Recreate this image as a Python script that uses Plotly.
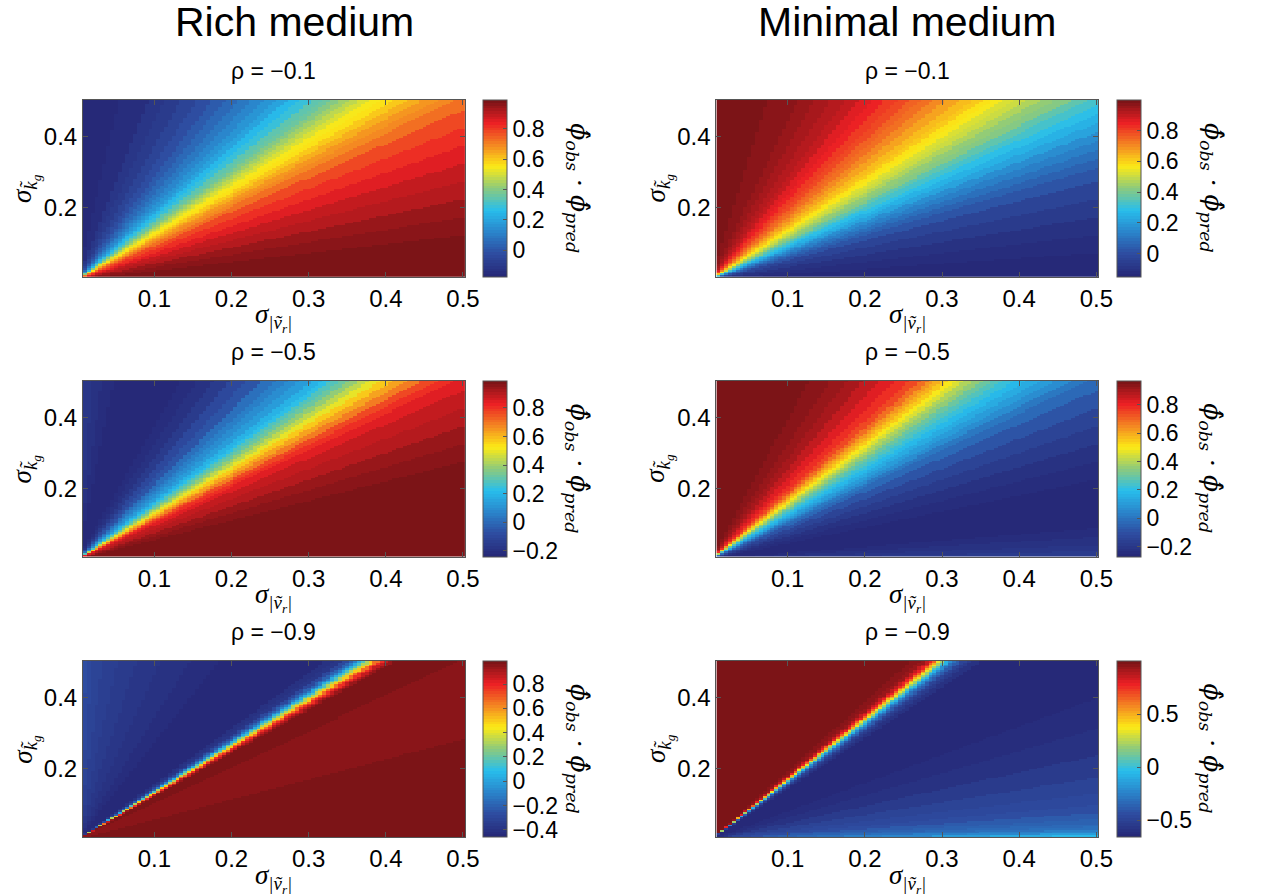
import numpy as np
import plotly.graph_objects as go

# grid of the two noise amplitudes (cell centres)
sigma_v = np.round(np.arange(0.01, 0.50001, 0.005), 4)
sigma_k = np.round(np.arange(0.01, 0.50001, 0.005), 4)

# value of phi_obs . phi_pred along rays of constant slope sigma_k / sigma_v
rich_01_slope = [0.0, 0.1, 0.2, 0.3, 0.4, 0.5, 0.6, 0.7, 0.8, 0.9, 1.0, 1.05, 1.1, 1.15, 1.2, 1.25,
                 1.3, 1.35, 1.4, 1.45, 1.5, 1.55, 1.6, 1.7, 1.8, 1.9, 2.0, 2.15, 2.3, 2.5, 2.75, 3.0,
                 3.5, 4, 5, 6, 8, 11, 16, 25, 50]
rich_01_val = [0.99, 0.985, 0.975, 0.96, 0.94, 0.915, 0.89, 0.86, 0.82, 0.775, 0.725, 0.695, 0.665,
               0.635, 0.6, 0.57, 0.535, 0.5, 0.465, 0.43, 0.4, 0.37, 0.34, 0.29, 0.245, 0.205, 0.17,
               0.125, 0.09, 0.05, 0.01, -0.02, -0.06, -0.09, -0.12, -0.14, -0.155, -0.165, -0.17,
               -0.175, -0.175]

rich_05_slope = [0.0, 0.2, 0.4, 0.5, 0.6, 0.7, 0.8, 0.9, 1.0, 1.05, 1.1, 1.15, 1.2, 1.25, 1.3, 1.35,
                 1.4, 1.45, 1.5, 1.55, 1.6, 1.7, 1.8, 1.9, 2.0, 2.2, 2.4, 2.7, 3.0, 3.5, 4.0, 5.0,
                 6.5, 9, 13, 20, 35, 50]
rich_05_val = [0.99, 0.99, 0.985, 0.975, 0.96, 0.94, 0.91, 0.88, 0.84, 0.81, 0.76, 0.7, 0.64, 0.57,
               0.5, 0.44, 0.38, 0.33, 0.28, 0.24, 0.2, 0.14, 0.09, 0.05, 0.01, -0.05, -0.1, -0.15,
               -0.19, -0.22, -0.235, -0.24, -0.235, -0.225, -0.21, -0.195, -0.175, -0.165]

rich_09_slope = [0.0, 0.3, 0.55, 0.58, 0.8, 1.0, 1.03, 1.1, 1.18, 1.21, 1.23, 1.25, 1.27, 1.29, 1.31,
                 1.33, 1.35, 1.37, 1.39, 1.41, 1.44, 1.48, 1.53, 1.6, 1.7, 1.85, 2.1, 2.5, 3.0, 4,
                 5.5, 8, 12, 20, 35, 50]
rich_09_val = [0.985, 0.985, 0.98, 0.96, 0.955, 0.96, 0.975, 0.985, 0.99, 0.97, 0.93, 0.87, 0.78,
               0.66, 0.5, 0.33, 0.16, 0.02, -0.1, -0.2, -0.3, -0.37, -0.41, -0.44, -0.455, -0.46,
               -0.455, -0.445, -0.43, -0.41, -0.385, -0.36, -0.34, -0.32, -0.29, -0.27]

min_01_slope = [0.0, 0.1, 0.2, 0.3, 0.4, 0.5, 0.6, 0.65, 0.7, 0.75, 0.8, 0.85, 0.9, 0.95, 1.0, 1.05,
                1.1, 1.15, 1.2, 1.25, 1.3, 1.35, 1.4, 1.45, 1.5, 1.6, 1.7, 1.8, 1.9, 2.0, 2.15, 2.3,
                2.5, 2.75, 3.0, 3.5, 4, 5, 6, 8, 12, 20, 50]
min_01_val = [-0.15, -0.14, -0.12, -0.1, -0.07, -0.03, 0.02, 0.05, 0.09, 0.13, 0.17, 0.21, 0.25,
              0.29, 0.33, 0.37, 0.41, 0.44, 0.47, 0.5, 0.53, 0.56, 0.585, 0.61, 0.635, 0.675, 0.71,
              0.74, 0.765, 0.79, 0.82, 0.845, 0.87, 0.895, 0.915, 0.94, 0.955, 0.97, 0.98, 0.99,
              0.995, 1.0, 1.0]

min_05_slope = [0.0, 0.03, 0.06, 0.1, 0.15, 0.2, 0.3, 0.4, 0.5, 0.6, 0.7, 0.8, 0.9, 1.0, 1.05, 1.1,
                1.15, 1.2, 1.25, 1.3, 1.35, 1.4, 1.45, 1.5, 1.55, 1.6, 1.65, 1.7, 1.75, 1.8, 1.9,
                2.0, 2.2, 2.4, 2.7, 3.0, 3.5, 4.5, 6, 10, 50]
min_05_val = [-0.16, -0.18, -0.2, -0.22, -0.24, -0.255, -0.27, -0.265, -0.25, -0.225, -0.19, -0.14,
              -0.08, -0.02, 0.02, 0.06, 0.1, 0.14, 0.18, 0.22, 0.26, 0.3, 0.35, 0.4, 0.45, 0.5, 0.55,
              0.6, 0.64, 0.68, 0.74, 0.78, 0.83, 0.87, 0.9, 0.92, 0.94, 0.955, 0.965, 0.97, 0.97]

min_09_slope = [0.02, 0.025, 0.03, 0.04, 0.05, 0.065, 0.08, 0.1, 0.13, 0.17, 0.22, 0.3, 0.4, 0.55,
                0.7, 0.9, 1.1, 1.3, 1.4, 1.46, 1.5, 1.53, 1.56, 1.59, 1.61, 1.63, 1.65, 1.67, 1.69,
                1.71, 1.73, 1.75, 1.78, 1.82, 1.88, 2.0, 2.5, 4, 50]
min_09_val = [-0.05, -0.1, -0.15, -0.22, -0.27, -0.31, -0.34, -0.37, -0.4, -0.43, -0.46, -0.5,
              -0.55, -0.6, -0.63, -0.65, -0.66, -0.655, -0.64, -0.6, -0.55, -0.48, -0.4, -0.3, -0.2,
              -0.08, 0.05, 0.2, 0.35, 0.5, 0.65, 0.77, 0.87, 0.93, 0.97, 0.99, 1.0, 1.0, 1.0]

column_titles = ["Rich medium", "Minimal medium"]
rho_titles = ["ρ = −0.1", "ρ = −0.5", "ρ = −0.9"]
x_ticks = [0.1, 0.2, 0.3, 0.4, 0.5]
y_ticks = [0.2, 0.4]
cbar_ticks = {
    (0, 0): [0, 0.2, 0.4, 0.6, 0.8],
    (1, 0): [-0.2, 0, 0.2, 0.4, 0.6, 0.8],
    (2, 0): [-0.4, -0.2, 0, 0.2, 0.4, 0.6, 0.8],
    (0, 1): [0, 0.2, 0.4, 0.6, 0.8],
    (1, 1): [-0.2, 0, 0.2, 0.4, 0.6, 0.8],
    (2, 1): [-0.5, 0, 0.5],
}
panels = {
    (0, 0): (rich_01_slope, rich_01_val),
    (1, 0): (rich_05_slope, rich_05_val),
    (2, 0): (rich_09_slope, rich_09_val),
    (0, 1): (min_01_slope, min_01_val),
    (1, 1): (min_05_slope, min_05_val),
    (2, 1): (min_09_slope, min_09_val),
}


def ray_field(slopes, values):
    """Each cell takes the tabulated value of the nearest ray through the origin."""
    ang = np.arctan(np.asarray(slopes, dtype=float))
    X, Y = np.meshgrid(sigma_v, sigma_k)
    th = np.arctan2(Y, X)
    idx = np.abs(th[..., None] - ang[None, None, :]).argmin(axis=-1)
    return np.asarray(values, dtype=float)[idx]


# 64-step jet colour map with print-like tones
anchor_pos = [0, 0.125, 0.25, 0.375, 0.5, 0.625, 0.75, 0.875, 1.0]
anchor_rgb = [(38, 41, 120), (46, 76, 160), (42, 132, 203), (40, 190, 236), (140, 202, 125),
              (252, 234, 22), (244, 134, 34), (236, 31, 36), (124, 20, 23)]
n_levels = 64
levels = []
for i in range(n_levels):
    t = i / (n_levels - 1)
    rgb = [np.interp(t, anchor_pos, [c[k] for c in anchor_rgb]) for k in range(3)]
    levels.append("rgb(%d,%d,%d)" % tuple(int(round(v)) for v in rgb))
jet64 = []
for i, c in enumerate(levels):
    jet64.append([i / n_levels, c])
    jet64.append([(i + 1) / n_levels, c])

W, H = 1261, 896
col_x = [(84, 470.5), (725, 1111.5)]
cbar_x = [489, 1130]
row_y = [(100, 276.7), (380.7, 556.7), (661, 837)]
x_range = [0.0075, 0.5025]

fig = go.Figure()
sans = "Liberation Sans, Arial, sans-serif"
tick_font = dict(family=sans, size=24, color="black")
cbar_font = dict(family=sans, size=23, color="black")
math_font = dict(family="Liberation Serif, Times New Roman, serif", size=27, color="black")

n = 0
for (r, c), (slopes, vals) in panels.items():
    n += 1
    xa = "x" if n == 1 else "x%d" % n
    ya = "y" if n == 1 else "y%d" % n
    z = ray_field(slopes, vals)
    x0, x1 = col_x[c]
    t0, t1 = row_y[r]
    fig.add_trace(go.Heatmap(
        x=sigma_v, y=sigma_k, z=z, xaxis=xa, yaxis=ya,
        colorscale=jet64, zmin=float(z.min()), zmax=float(z.max()),
        hoverinfo="skip",
        colorbar=dict(
            x=cbar_x[c] / W, xanchor="left", xpad=0,
            y=1 - (t0 + t1) / 2 / H, yanchor="middle", ypad=0,
            len=(t1 - t0), lenmode="pixels", thickness=24, thicknessmode="pixels",
            outlinewidth=1, outlinecolor="#555",
            tickvals=cbar_ticks[(r, c)], ticks="inside", ticklen=4, tickcolor="#555",
            tickfont=cbar_font,
        ),
    ))
    axis_common = dict(showline=True, linecolor="#555", linewidth=1, mirror="ticks",
                       ticks="inside", ticklen=5, tickcolor="#555", tickfont=tick_font,
                       showgrid=False, zeroline=False, range=x_range)
    fig.layout[("xaxis" if n == 1 else "xaxis%d" % n)] = dict(
        domain=[x0 / W, x1 / W], anchor=ya, tickvals=x_ticks, **axis_common)
    fig.layout[("yaxis" if n == 1 else "yaxis%d" % n)] = dict(
        domain=[1 - t1 / H, 1 - t0 / H], anchor=xa, tickvals=y_ticks, **axis_common)

    xc = (x0 + x1) / 2
    # panel title
    fig.add_annotation(x=xc / W, y=1 - (t0 - 29) / H, xref="paper", yref="paper",
                       text=rho_titles[r], showarrow=False, xanchor="center", yanchor="middle",
                       font=dict(family=sans, size=23, color="black"))
    # x label
    fig.add_annotation(x=xc / W, y=1 - (t1 + 41) / H, xref="paper", yref="paper",
                       text="<i>σ<sub>|ṽ<sub>r</sub>|</sub></i>", showarrow=False,
                       xanchor="center", yanchor="middle", font=math_font)
    # y label
    fig.add_annotation(x=(x0 - 58) / W, y=1 - (t0 + t1) / 2 / H, xref="paper", yref="paper",
                       text="<i>σ<sub>k̃<sub>g</sub></sub></i>", showarrow=False, textangle=-90,
                       xanchor="center", yanchor="middle", font=math_font)
    # colour bar label
    fig.add_annotation(x=(cbar_x[c] + 96) / W, y=1 - (t0 + t1) / 2 / H, xref="paper", yref="paper",
                       text="<i>ϕ̂<sub>obs</sub> · ϕ̂<sub>pred</sub></i>", showarrow=False,
                       textangle=90, xanchor="center", yanchor="middle",
                       font=dict(family="DejaVu Serif, Liberation Serif, serif", size=25,
                                 color="black"))

title_centres = [298, 918]
for c, title in enumerate(column_titles):
    fig.add_annotation(x=title_centres[c] / W, y=1 - 22 / H, xref="paper", yref="paper", text=title,
                       showarrow=False, xanchor="center", yanchor="middle",
                       font=dict(family=sans, size=41, color="black"))

fig.update_layout(width=W, height=H, margin=dict(l=0, r=0, t=0, b=0),
                  paper_bgcolor="white", plot_bgcolor="white", showlegend=False)
fig.write_html("out.html")
